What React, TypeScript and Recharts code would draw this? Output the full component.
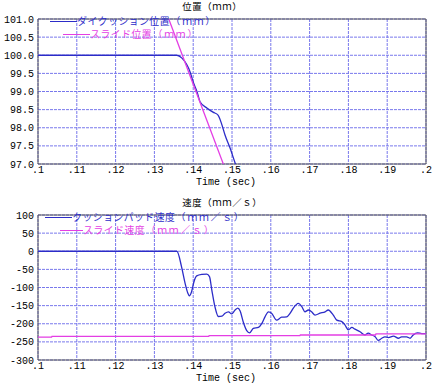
import React from "react";
import {
  LineChart,
  Line,
  XAxis,
  YAxis,
  CartesianGrid,
  ReferenceArea,
} from "recharts";

// time axis (sec)
const xTicks = [0.1, 0.11, 0.12, 0.13, 0.14, 0.15, 0.16, 0.17, 0.18, 0.19, 0.2];

// 位置 (mm)
const posTicks = [97, 97.5, 98, 98.5, 99, 99.5, 100, 100.5, 101];
const cushionPosTime = [0.1, 0.127, 0.1358, 0.1371, 0.1392, 0.14, 0.141, 0.1418, 0.1436, 0.1451, 0.1464, 0.1474, 0.1482, 0.1495, 0.1508, 0.152];
const cushionPos = [100, 100, 100, 99.92, 99.54, 99.26, 98.99, 98.71, 98.54, 98.43, 98.35, 98.08, 97.8, 97.44, 97.03, 96.7];
const slidePosTime = [0.133, 0.14, 0.149];
const slidePos = [101.2, 99.2, 96.65];

// 速度 (mm/s)
const velTicks = [-300, -250, -200, -150, -100, -50, 0, 50, 100];
const padVelTime = [
  0.1, 0.1358, 0.137, 0.1379, 0.1386, 0.139, 0.1396, 0.1402, 0.1409, 0.1422, 0.1435,
  0.1442, 0.1448, 0.1456, 0.1465, 0.1474, 0.1482, 0.1491, 0.1499, 0.1508, 0.1515,
  0.1521, 0.1529, 0.1538, 0.1545, 0.1555, 0.1568, 0.1577, 0.1585, 0.1594, 0.1602,
  0.1615, 0.1628, 0.1641, 0.165, 0.1658, 0.1671, 0.168, 0.1688, 0.1697, 0.1705,
  0.1714, 0.1727, 0.174, 0.1748, 0.1761, 0.177, 0.1783, 0.1791, 0.18, 0.1809,
  0.1817, 0.183, 0.1843, 0.1851, 0.186, 0.1869, 0.1877, 0.1886, 0.1894, 0.1903,
  0.1916, 0.1929, 0.1937, 0.195, 0.1959, 0.1967, 0.1978, 0.1989, 0.2,
];
const padVel = [
  0, 0, -43, -88, -115, -123, -111, -84, -68, -64, -63,
  -70, -107, -153, -180, -179, -171, -167, -173, -162, -157,
  -165, -195, -219, -225, -213, -210, -199, -181, -167, -171,
  -190, -182, -181, -171, -157, -144, -153, -167, -162, -167,
  -176, -171, -167, -162, -176, -190, -194, -203, -217, -210,
  -215, -222, -231, -226, -231, -236, -246, -240, -236, -238,
  -234, -240, -236, -236, -240, -231, -225, -227, -227,
];
const slideVelTime = [0.1, 0.1035, 0.1036, 0.144, 0.1441, 0.1675, 0.1676, 0.187, 0.1871, 0.2];
const slideVel = [-237, -237, -235, -235, -233, -233, -231, -231, -228, -228];

const BLUE = "#2c2cc8";
const PINK = "#e43ee4";
const GRID = "#7878ec";
const MONO = "'Liberation Mono', monospace";
const JP = "'Noto Sans CJK JP', sans-serif";

const toRows = (t: number[], v: number[]) => t.map((x, i) => ({ t: x, v: v[i] }));
const fmtX = (v: number) => v.toFixed(2).replace(/^0/, "").replace(/0$/, "");

type Series = { name: string; color: string; rows: { t: number; v: number }[]; type: "linear" | "monotone" };

// fixed-pitch cells, like the bitmap font of the original plot
// (full-width latin / brackets sit in slightly wider cells there)
function FwText({ text, cell, wide, size, color, left, top }: { text: string; cell: number; wide: number; size: number; color: string; left: number; top: number }) {
  return (
    <div
      style={{
        position: "absolute",
        left,
        top,
        height: 10,
        fontFamily: JP,
        fontSize: size,
        lineHeight: "10px",
        color,
        whiteSpace: "nowrap",
      }}
    >
      {Array.from(text).map((ch, i) => {
        const code = ch.charCodeAt(0);
        const w = code >= 0xff00 && code <= 0xffef ? wide : cell;
        return (
          <span key={i} style={{ display: "inline-block", width: w, height: 10, lineHeight: "10px", textAlign: "center", verticalAlign: "top" }}>
            {ch}
          </span>
        );
      })}
    </div>
  );
}

function Panel({
  top,
  title,
  domain,
  ticks,
  fmtY,
  series,
  legendX,
}: {
  top: number;
  title: string;
  domain: [number, number];
  ticks: number[];
  fmtY: (v: number) => string;
  series: Series[];
  legendX: number[];
}) {
  const rowY = [21, 34];
  return (
    <div style={{ position: "absolute", left: 0, top, width: 437, height: 195 }}>
      <LineChart width={437} height={195} margin={{ top: 19, right: 11, left: 2, bottom: 0 }}>
        <CartesianGrid stroke={GRID} strokeDasharray="3 1" />
        <XAxis
          dataKey="t"
          type="number"
          domain={[0.1, 0.2]}
          ticks={xTicks}
          tickFormatter={fmtX}
          axisLine={false}
          tickLine={false}
          tickSize={0}
          tickMargin={2}
          height={31}
          tick={{ fontSize: 10, fill: "#000", fontFamily: MONO }}
          allowDataOverflow
        />
        <YAxis
          type="number"
          domain={domain}
          ticks={ticks}
          tickFormatter={fmtY}
          axisLine={false}
          tickLine={false}
          tickSize={0}
          tickMargin={4}
          width={36}
          interval={0}
          tick={{ fontSize: 10, fill: "#000", fontFamily: MONO }}
          allowDataOverflow
        />
        <ReferenceArea x1={0.1} x2={0.2} y1={domain[0]} y2={domain[1]} fillOpacity={0} stroke="#555" strokeWidth={1} />
        {series.map((s) => (
          <Line
            key={s.name}
            data={s.rows}
            dataKey="v"
            name={s.name}
            type={s.type}
            stroke={s.color}
            strokeWidth={1.3}
            dot={false}
            isAnimationActive={false}
          />
        ))}
      </LineChart>
      <FwText text={title} cell={10} wide={10} size={9.4} color="#000" left={182} top={1} />
      {series.map((s, i) => (
        <div key={s.name}>
          <div
            style={{
              position: "absolute",
              left: legendX[i * 2],
              top: rowY[i],
              width: legendX[i * 2 + 1] - legendX[i * 2],
              height: 1,
              background: s.color,
            }}
          />
          <FwText text={s.name} cell={10.3} wide={11.6} size={9.8} color={s.color} left={legendX[i * 2 + 1]} top={rowY[i] - 5} />
        </div>
      ))}
      <div
        style={{
          position: "absolute",
          left: 0,
          top: 177,
          width: 452,
          textAlign: "center",
          fontFamily: MONO,
          fontSize: 10,
          lineHeight: "12px",
          color: "#000",
        }}
      >
        Time (sec)
      </div>
    </div>
  );
}

export default function App() {
  return (
    <div style={{ position: "absolute", left: 0, top: 0, width: 437, height: 391, background: "#fff" }}>
      <Panel
        top={0}
        title="位置（ｍｍ）"
        domain={[97, 101]}
        ticks={posTicks}
        fmtY={(v) => v.toFixed(1)}
        legendX={[50, 77, 63, 90]}
        series={[
          { name: "ダイクッション位置（ｍｍ）", color: BLUE, rows: toRows(cushionPosTime, cushionPos), type: "monotone" },
          { name: "スライド位置（ｍｍ）", color: PINK, rows: toRows(slidePosTime, slidePos), type: "linear" },
        ]}
      />
      <Panel
        top={196}
        title="速度（ｍｍ／ｓ）"
        domain={[-300, 100]}
        ticks={velTicks}
        fmtY={(v) => String(v)}
        legendX={[45, 72, 60, 83]}
        series={[
          { name: "クッションパッド速度（ｍｍ／ｓ）", color: BLUE, rows: toRows(padVelTime, padVel), type: "monotone" },
          { name: "スライド速度（ｍｍ／ｓ）", color: PINK, rows: toRows(slideVelTime, slideVel), type: "linear" },
        ]}
      />
    </div>
  );
}
